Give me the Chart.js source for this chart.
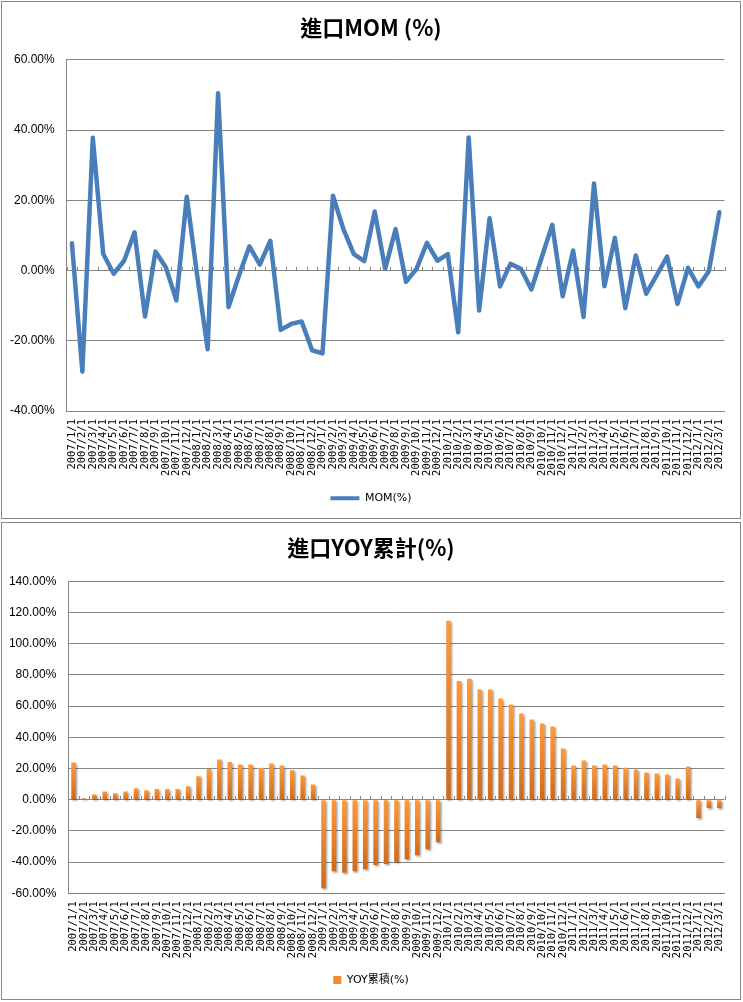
<!DOCTYPE html>
<html>
<head>
<meta charset="utf-8">
<script src="https://cdn.jsdelivr.net/npm/chart.js@4.4.1/dist/chart.umd.min.js"></script>
<style>
  body { margin: 0; background: #fff; }
  .box { position: absolute; left: 1px; width: 740px; border: 1px solid #888; box-sizing: border-box; background: #fff; }
  #box1 { top: 1px; height: 518px; }
  #box2 { top: 522px; height: 478px; }
  canvas { display: block; }
</style>
</head>
<body>
<div class="box" id="box1"><canvas id="mom" width="738" height="516"></canvas></div>
<div class="box" id="box2"><canvas id="yoy" width="738" height="476"></canvas></div>

<script>
// month labels, 2007/1 .. 2012/3
const months = [
  '2007/1/1','2007/2/1','2007/3/1','2007/4/1','2007/5/1','2007/6/1','2007/7/1','2007/8/1','2007/9/1','2007/10/1','2007/11/1','2007/12/1',
  '2008/1/1','2008/2/1','2008/3/1','2008/4/1','2008/5/1','2008/6/1','2008/7/1','2008/8/1','2008/9/1','2008/10/1','2008/11/1','2008/12/1',
  '2009/1/1','2009/2/1','2009/3/1','2009/4/1','2009/5/1','2009/6/1','2009/7/1','2009/8/1','2009/9/1','2009/10/1','2009/11/1','2009/12/1',
  '2010/1/1','2010/2/1','2010/3/1','2010/4/1','2010/5/1','2010/6/1','2010/7/1','2010/8/1','2010/9/1','2010/10/1','2010/11/1','2010/12/1',
  '2011/1/1','2011/2/1','2011/3/1','2011/4/1','2011/5/1','2011/6/1','2011/7/1','2011/8/1','2011/9/1','2011/10/1','2011/11/1','2011/12/1',
  '2012/1/1','2012/2/1','2012/3/1'
];

// 進口 MOM (%)
const momValues = [
  7.8, -28.8, 37.8, 4.7, -0.9, 2.8, 10.9, -13.1, 5.4, 0.9, -8.5, 21.0,
  -1.5, -22.4, 50.5, -10.4, -1.4, 6.9, 1.7, 8.5, -16.9, -15.2, -14.5, -22.7,
  -23.6, 21.3, 11.8, 4.7, 2.7, 16.8, 0.5, 11.8, -3.2, 0.5, 7.9, 2.8,
  4.7, -17.6, 37.9, -11.4, 14.9, -4.5, 1.9, 0.5, -5.4, 3.8, 13.0, -7.3,
  5.7, -13.2, 24.8, -4.5, 9.3, -10.7, 4.3, -6.6, -1.4, 4.0, -9.5, 0.8,
  -4.5, -0.2, 16.6
];

// 進口 YOY 累計 (%)
const yoyValues = [
  23.9, 1.0, 3.4, 5.3, 4.2, 5.3, 7.4, 6.0, 6.8, 6.8, 6.8, 8.7,
  15.1, 19.6, 25.8, 24.1, 22.6, 22.6, 20.5, 23.2, 21.9, 18.9, 15.5, 9.8,
  -56.7, -45.9, -46.9, -45.9, -44.6, -41.8, -41.2, -39.9, -38.2, -35.6, -31.8, -27.3,
  114.7, 76.1, 77.6, 70.6, 70.6, 64.8, 61.0, 55.2, 51.4, 48.8, 46.9, 32.8,
  21.9, 25.1, 21.9, 22.6, 21.9, 20.5, 19.4, 17.5, 16.8, 16.2, 13.6, 21.3,
  -11.8, -5.4, -5.4
];

const gridGray = '#868686';
const lineBlue = '#4A7EBB';

// small tick marks on the zero line, between categories (Excel style)
const zeroTicks = {
  id: 'zeroTicks',
  beforeDatasetsDraw(chart) {
    const x = chart.scales.x, y = chart.scales.y;
    const ctx = chart.ctx;
    const y0 = Math.round(y.getPixelForValue(0));
    const half = (x.getPixelForValue(1) - x.getPixelForValue(0)) / 2;
    ctx.save();
    ctx.strokeStyle = gridGray;
    ctx.lineWidth = 1;
    ctx.beginPath();
    for (let i = 0; i <= months.length; i++) {
      const px = Math.round(x.getPixelForValue(i) - half) + 0.5;
      ctx.moveTo(px, y0);
      ctx.lineTo(px, y0 - 4);
    }
    ctx.stroke();
    ctx.restore();
  }
};

// soft drop shadow under the bars
const barShadow = {
  id: 'barShadow',
  beforeDatasetsDraw(chart) {
    const ctx = chart.ctx;
    ctx.save();
    ctx.shadowColor = 'rgba(0,0,0,0.35)';
    ctx.shadowOffsetX = 1.5;
    ctx.shadowOffsetY = 1.5;
    ctx.shadowBlur = 2;
  },
  afterDatasetsDraw(chart) {
    chart.ctx.restore();
  }
};

function barGradient(context) {
  const chart = context.chart;
  const y = chart.scales.y;
  if (!chart.chartArea || !y || context.raw === undefined) return '#F58A2A';
  const v = context.raw;
  const top = y.getPixelForValue(Math.max(v, 0));
  const bottom = y.getPixelForValue(Math.min(v, 0));
  const g = chart.ctx.createLinearGradient(0, top, 0, bottom + 0.01);
  g.addColorStop(0, '#FF9A3A');
  g.addColorStop(1, '#CF6A1C');
  return g;
}

const xTickFont = { family: "'DejaVu Sans Mono'", size: 10.5 };
const yTickFont = { family: "'Liberation Sans'", size: 12 };
const titleFont = { family: "'Noto Sans CJK TC'", size: 22, weight: 'bold' };
const legendFont = { family: "'DejaVu Sans', 'Noto Sans CJK TC'", size: 11 };

function pct(v) { return v.toFixed(2) + '%'; }

// empty right-hand axis, only keeps a margin so title and legend stay centred
const spacer = {
  position: 'right',
  grid: { display: false, drawTicks: false },
  border: { display: false },
  ticks: { display: false },
  afterFit: (s) => { s.width = 13.3; }
};

// top chart: line
new Chart(document.getElementById('mom'), {
  type: 'line',
  data: {
    labels: months,
    datasets: [{
      label: 'MOM(%)',
      data: momValues,
      borderColor: lineBlue,
      backgroundColor: lineBlue,
      borderWidth: 4.5,
      pointRadius: 0,
      tension: 0,
      borderCapStyle: 'round',
      borderJoinStyle: 'round'
    }]
  },
  options: {
    responsive: false,
    animation: false,
    layout: { padding: { left: 0, right: 0, top: 0, bottom: 4.2 } },
    plugins: {
      title: {
        display: true,
        text: '進口MOM (%)',
        color: '#000',
        font: titleFont,
        padding: { top: 12.8, bottom: 18.7 }
      },
      legend: {
        position: 'bottom',
        labels: {
          color: '#000',
          font: legendFont,
          boxWidth: 29,
          boxHeight: 4,
          generateLabels: () => [{ text: 'MOM(%)', fillStyle: lineBlue, strokeStyle: lineBlue, lineWidth: 0, hidden: false, datasetIndex: 0 }]
        }
      },
      tooltip: { enabled: false }
    },
    scales: {
      x: {
        offset: true,
        grid: { display: false, drawTicks: false },
        border: { color: gridGray },
        ticks: { autoSkip: false, maxRotation: 90, minRotation: 90, padding: 8, color: '#000', font: xTickFont },
        afterFit: (s) => { s.height = 71.8; }
      },
      y: {
        min: -40,
        max: 60,
        grid: { color: gridGray, drawTicks: false },
        border: { color: gridGray },
        ticks: { stepSize: 20, padding: 12, color: '#000', font: yTickFont, callback: pct },
        afterFit: (s) => { s.width = 64.7; }
      },
      right: spacer
    }
  },
  plugins: [zeroTicks]
});

// bottom chart: bars
new Chart(document.getElementById('yoy'), {
  type: 'bar',
  data: {
    labels: months,
    datasets: [{
      label: 'YOY累積(%)',
      data: yoyValues,
      backgroundColor: barGradient,
      borderWidth: 0,
      categoryPercentage: 1,
      barPercentage: 0.43
    }]
  },
  options: {
    responsive: false,
    animation: false,
    layout: { padding: { left: 0, right: 0, top: 0, bottom: 3.5 } },
    plugins: {
      title: {
        display: true,
        text: '進口YOY累計(%)',
        color: '#000',
        font: titleFont,
        padding: { top: 11.8, bottom: 20.1 }
      },
      legend: {
        position: 'bottom',
        labels: {
          color: '#000',
          font: legendFont,
          boxWidth: 8,
          boxHeight: 8,
          generateLabels: () => [{ text: 'YOY累積(%)', fillStyle: '#F08A2C', strokeStyle: '#F08A2C', lineWidth: 0, hidden: false, datasetIndex: 0 }]
        }
      },
      tooltip: { enabled: false }
    },
    scales: {
      x: {
        offset: true,
        grid: { display: false, drawTicks: false },
        border: { color: gridGray },
        ticks: { autoSkip: false, maxRotation: 90, minRotation: 90, padding: 8, color: '#000', font: xTickFont },
        afterFit: (s) => { s.height = 71.2; }
      },
      y: {
        min: -60,
        max: 140,
        grid: { color: gridGray, drawTicks: false },
        border: { color: gridGray },
        ticks: { stepSize: 20, padding: 12, color: '#000', font: yTickFont, callback: pct },
        afterFit: (s) => { s.width = 66.3; }
      },
      right: spacer
    }
  },
  plugins: [zeroTicks, barShadow]
});
</script>
</body>
</html>
